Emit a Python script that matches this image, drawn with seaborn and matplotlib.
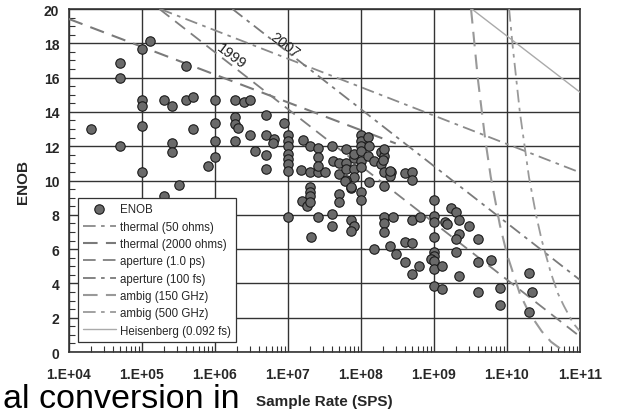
"""ENOB vs sample rate scatter with theoretical limit lines."""

import matplotlib
matplotlib.use("Agg")
import matplotlib.pyplot as plt
import matplotlib.ticker as mticker
import seaborn as sns
import pandas as pd

# --- data -------------------------------------------------------------------
sample_rate = [
    2.0e4, 5e4, 5e4, 5e4, 1e5, 1e5, 1e5, 1e5, 1e5, 1.3e5,
    2e5, 2e5, 2.6e5, 2.6e5, 2.6e5, 3.2e5, 4e5, 4e5, 5e5, 5e5,
    8.1e5, 1e6, 1e6, 1e6, 1e6, 1.9e6, 1.9e6, 1.9e6, 2.1e6, 1.9e6,
    2.5e6, 3e6, 3e6, 3.5e6, 5e6, 5e6, 5e6, 5e6, 6.5e6, 6.2e6,
    8.8e6, 1e7, 1e7, 1e7, 1e7, 1e7, 1e7, 1e7, 1e7, 1.5e7,
    1.6e7, 2e7, 2.6e7, 2.6e7, 2e7, 2.6e7, 3.2e7, 2.6e7, 4e7, 4.2e7,
    5e7, 5e7, 6.2e7, 6.2e7, 8e7, 8e7, 8e7, 6.2e7, 6.2e7, 7.4e7,
    8e7, 1e8, 1e8, 1e8, 1e8, 1e8, 1e8, 1e8, 1e8, 1.25e8,
    1.3e8, 1.25e8, 1.3e8, 1.5e8, 1.9e8, 1.9e8, 2.1e8, 2.1e8, 2.6e8, 4e8,
    2.1e8, 2.5e8, 5e8, 5e8, 2.0e8, 2.1e8, 2.5e8,
    2e7, 2e7, 2e7, 1.55e7, 1.8e7, 2e7, 2.6e7, 2.1e7, 4e7, 4e7,
    5e7, 5e7, 6e7, 7.4e7, 7.4e7, 8e7, 7.4e7,
    2.1e8, 2.75e8, 2.1e8, 2.1e8, 1.5e8, 2.5e8, 3e8, 4e8, 4e8, 5e8,
    5e8, 6.5e8,
    1e9, 1e9, 1e9, 1e9, 1e9, 1e9, 9.1e8, 1e9, 1e9, 1e9,
    1.4e9, 1.5e9, 1.7e9, 2e9, 2.2e9, 3e9, 2.2e9, 2e9, 2e9, 4e9,
    6.2e8, 5e8, 1.3e9, 2.2e9, 4e9, 6e9, 1.27e9, 4e9, 8e9, 8e9,
    2e10, 2.2e10, 2e10,
]
enob = [
    13.0, 16.85, 16.0, 12.0, 17.67, 14.68, 14.33, 13.16, 10.52, 18.15,
    14.68, 9.11, 14.34, 12.17, 11.68, 9.75, 16.66, 14.68, 14.85, 13.0,
    10.86, 14.68, 13.33, 12.32, 11.35, 14.68, 13.68, 13.3, 13.04, 12.32,
    14.56, 14.71, 12.65, 11.74, 13.82, 12.65, 11.49, 10.67, 12.42, 12.17,
    13.33, 12.65, 12.3, 12.0, 11.55, 11.25, 10.95, 10.55, 7.85, 10.63,
    12.36, 12.03, 11.88, 11.35, 10.51, 10.51, 10.48, 10.86, 12.03, 11.15,
    11.0, 10.4, 11.0, 10.7, 11.3, 10.7, 10.2, 11.84, 10.05, 9.54,
    11.55, 12.65, 12.32, 12.03, 11.74, 11.15, 10.77, 9.31, 8.88, 12.51,
    12.03, 11.45, 9.9, 11.15, 11.64, 10.96, 11.45, 10.48, 10.48, 10.44,
    9.7, 10.24, 10.48, 10.03, 11.2, 11.84, 10.57,
    9.6, 9.35, 9.11, 8.82, 8.53, 8.73, 7.85, 6.72, 8.05, 7.36,
    9.21, 8.73, 10.0, 9.6, 7.70, 7.36, 7.04,
    7.89, 7.85, 7.52, 7.01, 6.0, 6.2, 5.69, 6.4, 5.27, 6.36,
    7.70, 7.85,
    8.86, 7.95, 7.56, 6.69, 5.85, 5.58, 5.42, 5.32, 4.84, 3.87,
    7.6, 7.46, 8.38, 8.18, 7.70, 7.36, 6.88, 6.59, 5.85, 6.59,
    5.0, 4.55, 5.0, 4.45, 5.23, 5.36, 3.67, 3.48, 3.73, 2.74,
    4.59, 3.48, 2.31,
]

thermal50_x = [1.78e5, 1e11]
thermal50_y = [20.0, 10.47]
thermal2000_x = [1e4, 3e8]
thermal2000_y = [19.42, 12.16]
aperture1ps_x = [1.74e5, 1e11]
aperture1ps_y = [20.0, 0.9]
aperture100fs_x = [1.74e6, 1e11]
aperture100fs_y = [20.0, 4.2]
ambig150_x = [3.22e9, 4e9, 5e9, 6e9, 8e9, 1e10, 1.5e10, 2e10, 3e10, 4e10, 6.2e10]
ambig150_y = [20.0, 15.9, 12.5, 10.2, 7.4, 5.7, 3.4, 2.3, 1.2, 0.6, 0.0]
ambig500_x = [1.07e10, 1.2e10, 1.5e10, 2e10, 2.5e10, 3e10, 4e10, 5e10, 6e10, 8e10, 1e11]
ambig500_y = [20.0, 17.8, 14.0, 10.2, 8.0, 6.5, 4.6, 3.4, 2.7, 1.7, 1.2]
heisenberg_x = [3.3e9, 1e11]
heisenberg_y = [20.0, 15.15]

x_ticks = [1e4, 1e5, 1e6, 1e7, 1e8, 1e9, 1e10, 1e11]
x_tick_labels = ["1.E+04", "1.E+05", "1.E+06", "1.E+07",
                 "1.E+08", "1.E+09", "1.E+10", "1.E+11"]

# --- style -------------------------------------------------------------------
sns.set_theme(style="white")
plt.rcParams["font.family"] = ["Liberation Sans", "DejaVu Sans"]

DASH = (0, (7, 4))
DASHDOT = (0, (7, 3, 2, 3))

fig = plt.figure(figsize=(6.26, 4.10), dpi=100)
ax = fig.add_axes([0.110, 0.139, 0.8165, 0.8366])
ax.set_xscale("log")

df = pd.DataFrame({"rate": sample_rate, "enob": enob})
sns.scatterplot(data=df, x="rate", y="enob", ax=ax, s=46, color="#6a6a6a",
                edgecolor="#1a1a1a", linewidth=0.8, zorder=5, label="ENOB")

lines = [
    (thermal50_x, thermal50_y, "thermal (50 ohms)", "#8a8a8a", 1.3, DASHDOT),
    (thermal2000_x, thermal2000_y, "thermal (2000 ohms)", "#7a7a7a", 1.5, DASH),
    (aperture1ps_x, aperture1ps_y, "aperture (1.0 ps)", "#7f7f7f", 1.3, DASH),
    (aperture100fs_x, aperture100fs_y, "aperture (100 fs)", "#7a7a7a", 1.3, DASHDOT),
    (ambig150_x, ambig150_y, "ambig (150 GHz)", "#999999", 1.5, DASH),
    (ambig500_x, ambig500_y, "ambig (500 GHz)", "#9a9a9a", 1.3, DASHDOT),
    (heisenberg_x, heisenberg_y, "Heisenberg (0.092 fs)", "#aaaaaa", 1.0, "-"),
]
for xs, ys, lab, col, lw, ls in lines:
    ax.plot(xs, ys, color=col, lw=lw, linestyle=ls, label=lab, zorder=3)

ax.text(10 ** 6.22, 17.3, "1999", rotation=-37, ha="center", va="center",
        fontsize=10.5, color="#222222", zorder=6)
ax.text(10 ** 6.96, 17.95, "2007", rotation=-37, ha="center", va="center",
        fontsize=10.5, color="#222222", zorder=6)

ax.set_xlim(1e4, 1e11)
ax.set_ylim(0, 20)
ax.set_xticks(x_ticks)
ax.set_xticklabels(x_tick_labels)
ax.set_yticks(range(0, 21, 2))
ax.xaxis.set_minor_locator(mticker.LogLocator(base=10, subs=range(2, 10), numticks=20))
ax.xaxis.set_minor_formatter(mticker.NullFormatter())
ax.yaxis.set_minor_locator(mticker.MultipleLocator(0.5))

ax.grid(True, which="major", color="#333333", linewidth=1.0, zorder=0)
ax.set_axisbelow(True)
ax.tick_params(axis="both", which="major", length=0, labelsize=10)
ax.tick_params(axis="x", which="major", pad=11)
ax.tick_params(axis="y", which="major", pad=7)
ax.tick_params(axis="both", which="minor", direction="in", length=4,
               width=0.8, color="#333333", bottom=True, left=True)
for lbl in ax.get_xticklabels() + ax.get_yticklabels():
    lbl.set_fontweight("bold")
for sp in ax.spines.values():
    sp.set_color("#333333")
    sp.set_linewidth(1.2)

ax.set_xlabel("Sample Rate (SPS)", fontsize=11, fontweight="bold", labelpad=9)
ax.set_ylabel("ENOB", fontsize=11, fontweight="bold", labelpad=10)

leg = ax.legend(loc="lower left", bbox_to_anchor=(0.017, 0.03), borderaxespad=0,
                fontsize=8.3, frameon=True, fancybox=False, framealpha=1,
                edgecolor="#333333", handlelength=2.9, labelspacing=0.46,
                borderpad=0.45, handletextpad=0.3)
leg.get_frame().set_linewidth(0.9)
leg.set_zorder(10)

# caption fragment from the page, cut by the bottom edge as in the reference
fig.text(0.004, 0.004, "al conversion in", fontsize=24.5, ha="left",
         va="baseline", color="black")

fig.savefig("out.png", dpi=100)
